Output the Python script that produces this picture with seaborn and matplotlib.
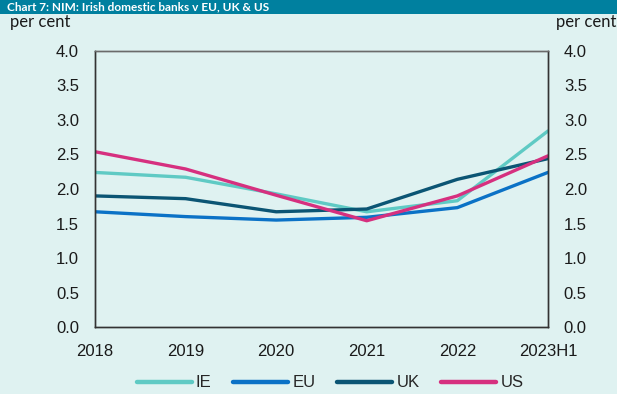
import matplotlib
matplotlib.use("Agg")
import matplotlib.pyplot as plt
import seaborn as sns
import pandas as pd

periods = ["2018", "2019", "2020", "2021", "2022", "2023H1"]
ie = [2.24, 2.17, 1.93, 1.67, 1.83, 2.84]
eu = [1.67, 1.60, 1.55, 1.59, 1.73, 2.24]
uk = [1.90, 1.86, 1.67, 1.71, 2.14, 2.44]
us = [2.54, 2.29, 1.91, 1.54, 1.90, 2.48]
series_names = ["IE", "EU", "UK", "US"]
colors = ["#5fcac4", "#0b72c6", "#0b5574", "#d6307f"]
yticks = [0, 0.5, 1.0, 1.5, 2.0, 2.5, 3.0, 3.5, 4.0]

bg = "#dff2f1"
sns.set_theme(style="white")
plt.rcParams["font.family"] = ["Liberation Sans", "DejaVu Sans"]

rows = []
for name, vals in zip(series_names, [ie, eu, uk, us]):
    for i, (p, v) in enumerate(zip(periods, vals)):
        rows.append({"period": i, "label": p, "series": name, "value": v})
df = pd.DataFrame(rows)

fig = plt.figure(figsize=(6.17, 3.94), dpi=100, facecolor=bg)
ax = fig.add_axes([0.154, 0.170, 0.734, 0.7006])
ax.set_facecolor(bg)

sns.lineplot(data=df, x="period", y="value", hue="series", hue_order=series_names,
             palette=colors, linewidth=2.4, ax=ax, legend=True)

ax.set_xlim(0, len(periods) - 1)
ax.set_ylim(0, 4.0)
ax.set_xticks(range(len(periods)))
ax.set_xticklabels(periods)
ax.set_yticks(yticks)
ax.set_yticklabels([f"{t:.1f}" for t in yticks])
ax.set_xlabel("")
ax.set_ylabel("")
ax.tick_params(axis="y", labelsize=12, colors="#1a1a1a", length=0, pad=11.5)
ax.tick_params(axis="x", labelsize=12, colors="#1a1a1a", length=0, pad=12)

ax2 = ax.twinx()
ax2.set_ylim(0, 4.0)
ax2.set_yticks(yticks)
ax2.set_yticklabels([f"{t:.1f}" for t in yticks])
ax2.tick_params(axis="y", labelsize=12, colors="#1a1a1a", length=0, pad=11.5)
ax2.grid(False)

for a in (ax, ax2):
    for side, sp in a.spines.items():
        sp.set_visible(True)
        sp.set_linewidth(1.0)
        sp.set_color("#333333")
    a.spines["top"].set_color("#6b6b6b")

handles, labels = ax.get_legend_handles_labels()
ax.get_legend().remove()
for h in handles:
    h.set_linewidth(3.2)
fig.legend(handles, labels, loc="center", bbox_to_anchor=(0.535, 0.028), ncol=4,
           frameon=False, fontsize=12, handlelength=3.3, handletextpad=0.25,
           columnspacing=1.3)

# title band
band_h = 14 / 394
fig.patches.append(plt.Rectangle((0, 1 - band_h), 1, band_h, transform=fig.transFigure,
                                 facecolor="#00809f", edgecolor="none", zorder=0))
fig.text(0.012, 1 - band_h / 2, "Chart 7: NIM: Irish domestic banks v EU, UK & US",
         color="white", fontsize=8.5, fontweight="bold", family=["Lato", "DejaVu Sans"],
         va="center", ha="left")

fig.text(0.016, 1 - 22 / 394, "per cent", fontsize=12, family=["Lato", "DejaVu Sans"],
         color="#1a1a1a", va="center", ha="left")
fig.text(0.999, 1 - 22 / 394, "per cent", fontsize=12, family=["Lato", "DejaVu Sans"],
         color="#1a1a1a", va="center", ha="right")

fig.savefig("out.png", dpi=100, facecolor=bg)
